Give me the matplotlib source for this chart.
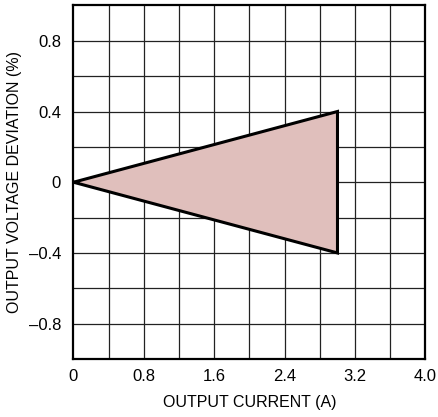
import matplotlib
matplotlib.use("Agg")
import matplotlib.pyplot as plt
import numpy as np

plt.rcParams['font.family'] = ['Liberation Sans Narrow', 'Liberation Sans', 'DejaVu Sans']

# triangle outline (current in A, deviation in %)
corriente = [0.0, 3.0, 3.0]
desviacion = [0.0, 0.4, -0.4]

xticks = [0, 0.8, 1.6, 2.4, 3.2, 4.0]
xlabels = ['0', '0.8', '1.6', '2.4', '3.2', '4.0']
yticks = [-0.8, -0.4, 0, 0.4, 0.8]
ylabels = ['\u20130.8', '\u20130.4', '0', '0.4', '0.8']

fig = plt.figure(figsize=(4.39, 4.17), dpi=100)
ax = fig.add_axes([0.1674, 0.139, 0.8018, 0.848])

ax.set_xlim(0, 4.0)
ax.set_ylim(-1.0, 1.0)

# grid cada 0.4 A y 0.2 %
for gx in np.arange(0.4, 4.0, 0.4):
    ax.axvline(gx, color='#222222', lw=0.9, zorder=1)
for gy in np.arange(-0.8, 1.0, 0.2):
    ax.axhline(gy, color='#222222', lw=0.9, zorder=1)

ax.fill(corriente, desviacion, facecolor='#e0bfbc', edgecolor='none', zorder=2)
ax.plot(corriente + [corriente[0]], desviacion + [desviacion[0]], color='black', lw=2.2,
        solid_joinstyle='miter', zorder=3)

ax.set_xticks(xticks)
ax.set_xticklabels(xlabels)
ax.set_yticks(yticks)
ax.set_yticklabels(ylabels)
ax.tick_params(length=0, labelsize=12)
ax.tick_params(axis='x', pad=7)
ax.tick_params(axis='y', pad=9)

for s in ax.spines.values():
    s.set_linewidth(1.6)

ax.set_xlabel("OUTPUT CURRENT (A)", fontsize=11.5, labelpad=8)
ax.set_ylabel("OUTPUT VOLTAGE DEVIATION (%)", fontsize=11.5, labelpad=5)

fig.savefig("out.png", dpi=100)
